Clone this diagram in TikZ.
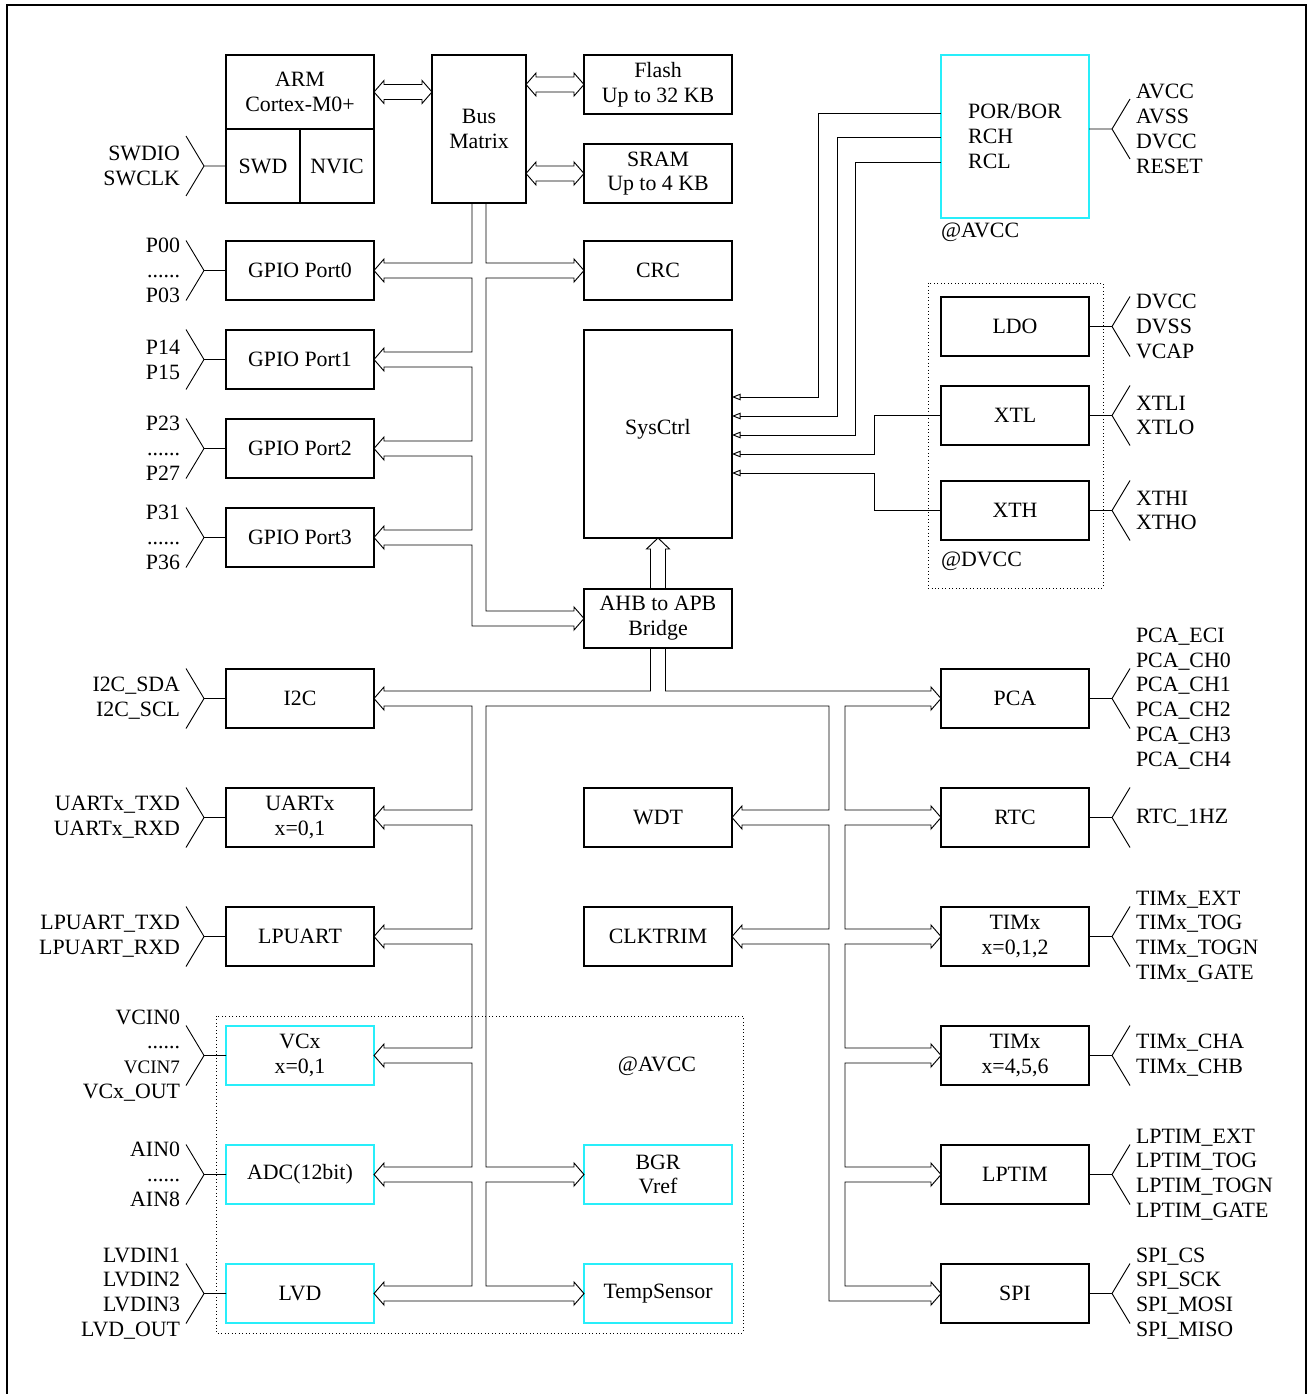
\documentclass[tikz,border=0pt]{standalone}
\usepackage{fontspec}
\setmainfont{Liberation Serif}
\usetikzlibrary{calc,arrows.meta}
\definecolor{lcyan}{RGB}{40,238,250}
\newcommand\fs{\fontsize{16.4pt}{18.6pt}\selectfont}
\newcommand\mypinL[3]{%
 \draw[ln] ($(#1)+(-40,-30)$) -- ($(#1)+(-22,0)$) -- ($(#1)+(-40,30)$) ($(#1)+(-22,0)$) -- (#1);
 \node[lbl, anchor=east, align=right] (#3) at ($(#1)+(-46,0)$) {#2};}
\newcommand\mypinR[3]{%
 \draw[ln] ($(#1)+(41,-30)$) -- ($(#1)+(23,0)$) -- ($(#1)+(41,30)$) ($(#1)+(23,0)$) -- (#1);
 \node[lbl, anchor=west, align=left] (#3) at ($(#1)+(47,0)$) {#2};}
\newcommand\dbus[2]{\draw[bus] (#1) -- ++(10,-11.5) -- ++(0,4) -- ($(#2)+(-10,-7.5)$) -- ++(0,-4) -- (#2) -- ++(-10,11.5) -- ++(0,-4) -- ($(#1)+(10,7.5)$) -- ++(0,4) -- cycle;}
\begin{document}
\begin{tikzpicture}[x=0.75pt,y=-0.75pt,
  box/.style={draw, line width=0.8pt, minimum width=111pt, minimum height=44.25pt, inner sep=0pt, outer sep=0pt, align=center, font=\fs},
  cbox/.style={box, draw=lcyan},
  ln/.style={line width=0.7pt},
  bus/.style={line width=0.7pt, line join=miter},
  sarr/.style={ln, -{Triangle[open,length=6.5pt,width=5pt]}},
  lbl/.style={inner sep=0pt, outer sep=0pt, font=\fs},
  dotbox/.style={line width=0.6pt, dotted}]
\useasboundingbox (0,0) rectangle (1310,1394);
% frame
\draw[line width=1.9pt] (7,1394) -- (7,5) -- (1306,5) -- (1306,1394);
% dotted domains
\draw[dotbox] (928,283) rectangle (1103,588);
\draw[dotbox] (216,1016) rectangle (743,1333);
% boxes
\node[box, minimum height=55.5pt] (armcore) at (300,92) {ARM\\Cortex-M0+};
\node[box, minimum width=55.5pt, minimum height=55.5pt] (swd) at (263,166) {SWD};
\node[box, minimum width=55.5pt, minimum height=55.5pt] (nvic) at (337,166) {NVIC};
\node[box, minimum width=70.5pt, minimum height=111pt] (bm) at (479,129) {Bus\\Matrix};
\node[box] (flash) at (658,84.5) {Flash\\Up to 32 KB};
\node[box] (sram) at (658,173.5) {SRAM\\Up to 4 KB};
\node[box] (crc) at (658,270.5) {CRC};
\node[box] (gpio0) at (300,270.5) {GPIO Port0};
\node[box] (gpio1) at (300,359.5) {GPIO Port1};
\node[box] (gpio2) at (300,448.5) {GPIO Port2};
\node[box] (gpio3) at (300,537.5) {GPIO Port3};
\node[box, minimum height=156pt] (sys) at (658,434) {\raisebox{3.5pt}[\height][\depth]{SysCtrl}};
\node[box] (ahb) at (658,618.5) {AHB to APB\\Bridge};
\node[box] (i2c) at (300,698.5) {I2C};
\node[box] (uart) at (300,817.5) {UARTx\\x=0,1};
\node[box] (lpuart) at (300,936.5) {LPUART};
\node[cbox] (vcx) at (300,1055.5) {VCx\\x=0,1};
\node[cbox] (adc) at (300,1174.5) {ADC(12bit)};
\node[cbox] (lvd) at (300,1293.5) {LVD};
\node[box] (wdt) at (658,817.5) {WDT};
\node[box] (clk) at (658,936.5) {CLKTRIM};
\node[cbox] (bgr) at (658,1174.5) {BGR\\Vref};
\node[cbox] (temp) at (658,1293.5) {TempSensor};
\node[box] (pca) at (1015,698.5) {PCA};
\node[box] (rtc) at (1015,817.5) {RTC};
\node[box] (tim012) at (1015,936.5) {TIMx\\x=0,1,2};
\node[box] (tim456) at (1015,1055.5) {TIMx\\x=4,5,6};
\node[box] (lptim) at (1015,1174.5) {LPTIM};
\node[box] (spi) at (1015,1293.5) {SPI};
\node[cbox, minimum height=122.25pt, align=left] (por) at (1015,136.5) {POR/BOR\\RCH\\RCL};
\node[box] (ldo) at (1015,326.5) {LDO};
\node[box] (xtl) at (1015,415.5) {XTL};
\node[box] (xth) at (1015,510.5) {XTH};
% domain labels
\node[lbl, anchor=west] (poravcc) at (941,232) {@AVCC};
\node[lbl, anchor=west] (dvcclbl) at (941,561) {@DVCC};
\node[lbl] (anaavcc) at (657,1066) {@AVCC};
% top buses
\coordinate (armR) at (bm.west |- armcore.east);
\coordinate (flashL) at (bm.east |- flash.west);
\coordinate (sramL) at (bm.east |- sram.west);
\dbus{armcore.east}{armR}
\dbus{flashL}{flash.west}
\dbus{sramL}{sram.west}
% AHB bus from bus matrix
\draw[bus] (472,203) -- (472,263) -- (384,263) -- ++(0,-4) -- (gpio0.east) -- ++(10,11.5) -- ++(0,-4)
 -- (472,278) -- (472,352) -- (384,352) -- ++(0,-4) -- (gpio1.east) -- ++(10,11.5) -- ++(0,-4)
 -- (472,367) -- (472,441) -- (384,441) -- ++(0,-4) -- (gpio2.east) -- ++(10,11.5) -- ++(0,-4)
 -- (472,456) -- (472,530) -- (384,530) -- ++(0,-4) -- (gpio3.east) -- ++(10,11.5) -- ++(0,-4)
 -- (472,545) -- (472,626) -- (574,626) -- ++(0,4) -- (ahb.west) -- ++(-10,-11.5) -- ++(0,4)
 -- (486,611) -- (486,278) -- (574,278) -- ++(0,4) -- (crc.west) -- ++(-10,-11.5) -- ++(0,4)
 -- (486,263) -- (486,203);
% bridge to sysctrl
\draw[bus] (650.5,589) -- (650.5,549) -- ++(-4,0) -- (sys.south) -- ++(11.5,11) -- ++(-4,0) -- (665.5,589);
% APB bus
\draw[bus] (650.5,648) -- (650.5,691) -- (384,691) -- ++(0,-4) -- (i2c.east) -- ++(10,11.5) -- ++(0,-4)
 -- (472,706) -- (472,810) -- (384,810) -- ++(0,-4) -- (uart.east) -- ++(10,11.5) -- ++(0,-4)
 -- (472,825) -- (472,929) -- (384,929) -- ++(0,-4) -- (lpuart.east) -- ++(10,11.5) -- ++(0,-4)
 -- (472,944) -- (472,1048) -- (384,1048) -- ++(0,-4) -- (vcx.east) -- ++(10,11.5) -- ++(0,-4)
 -- (472,1063) -- (472,1167) -- (384,1167) -- ++(0,-4) -- (adc.east) -- ++(10,11.5) -- ++(0,-4)
 -- (472,1182) -- (472,1286) -- (384,1286) -- ++(0,-4) -- (lvd.east) -- ++(10,11.5) -- ++(0,-4)
 -- (574,1301) -- ++(0,4) -- (temp.west) -- ++(-10,-11.5) -- ++(0,4)
 -- (486,1286) -- (486,1182) -- (574,1182) -- ++(0,4) -- (bgr.west) -- ++(-10,-11.5) -- ++(0,4)
 -- (486,1167) -- (486,706) -- (829,706) -- (829,810) -- (742,810) -- ++(0,-4) -- (wdt.east) -- ++(10,11.5) -- ++(0,-4)
 -- (829,825) -- (829,929) -- (742,929) -- ++(0,-4) -- (clk.east) -- ++(10,11.5) -- ++(0,-4)
 -- (829,944) -- (829,1301) -- (931,1301) -- ++(0,4) -- (spi.west) -- ++(-10,-11.5) -- ++(0,4)
 -- (845,1286) -- (845,1182) -- (931,1182) -- ++(0,4) -- (lptim.west) -- ++(-10,-11.5) -- ++(0,4)
 -- (845,1167) -- (845,1063) -- (931,1063) -- ++(0,4) -- (tim456.west) -- ++(-10,-11.5) -- ++(0,4)
 -- (845,1048) -- (845,944) -- (931,944) -- ++(0,4) -- (tim012.west) -- ++(-10,-11.5) -- ++(0,4)
 -- (845,929) -- (845,825) -- (931,825) -- ++(0,4) -- (rtc.west) -- ++(-10,-11.5) -- ++(0,4)
 -- (845,810) -- (845,706) -- (931,706) -- ++(0,4) -- (pca.west) -- ++(-10,-11.5) -- ++(0,4)
 -- (665.5,691) -- (665.5,648);
% clock / reset signals to SysCtrl
\draw[sarr] (por.west |- 0,113) -| (818,397) -- (sys.east |- 0,397);
\draw[sarr] (por.west |- 0,137) -| (837,416) -- (sys.east |- 0,416);
\draw[sarr] (por.west |- 0,162) -| (855,435) -- (sys.east |- 0,435);
\draw[sarr] (xtl.west) -- (874,415.5) |- (sys.east |- 0,454);
\draw[sarr] (xth.west) -- (874,510.5) |- (sys.east |- 0,473);
% left pins
\mypinL{swd.west}{SWDIO\\SWCLK}{swdpins}
\mypinL{gpio0.west}{P00\\......\\P03}{p0pins}
\mypinL{gpio1.west}{P14\\P15}{p1pins}
\mypinL{gpio2.west}{P23\\......\\P27}{p2pins}
\mypinL{gpio3.west}{P31\\......\\P36}{p3pins}
\mypinL{i2c.west}{I2C\_SDA\\I2C\_SCL}{i2cpins}
\mypinL{uart.west}{UARTx\_TXD\\UARTx\_RXD}{uartpins}
\mypinL{lpuart.west}{LPUART\_TXD\\LPUART\_RXD}{lpuartpins}
\mypinL{vcx.west}{VCIN0\\......\\{\fontsize{14.3pt}{18pt}\selectfont VCIN7}\\VCx\_OUT}{vcxpins}
\mypinL{adc.west}{AIN0\\......\\AIN8}{adcpins}
\mypinL{lvd.west}{LVDIN1\\LVDIN2\\LVDIN3\\LVD\_OUT}{lvdpins}
% right pins
\coordinate (porpin) at (1089,129);
\mypinR{porpin}{AVCC\\AVSS\\DVCC\\RESET}{porpins}
\mypinR{ldo.east}{DVCC\\DVSS\\VCAP}{ldopins}
\mypinR{xtl.east}{XTLI\\XTLO}{xtlpins}
\mypinR{xth.east}{XTHI\\XTHO}{xthpins}
\mypinR{pca.east}{PCA\_ECI\\PCA\_CH0\\PCA\_CH1\\PCA\_CH2\\PCA\_CH3\\PCA\_CH4}{pcapins}
\mypinR{rtc.east}{RTC\_1HZ}{rtcpins}
\mypinR{tim012.east}{TIMx\_EXT\\TIMx\_TOG\\TIMx\_TOGN\\TIMx\_GATE}{tima}
\mypinR{tim456.east}{TIMx\_CHA\\TIMx\_CHB}{timb}
\mypinR{lptim.east}{LPTIM\_EXT\\LPTIM\_TOG\\LPTIM\_TOGN\\LPTIM\_GATE}{lptimpins}
\mypinR{spi.east}{SPI\_CS\\SPI\_SCK\\SPI\_MOSI\\SPI\_MISO}{spipins}
\end{tikzpicture}
\end{document}
